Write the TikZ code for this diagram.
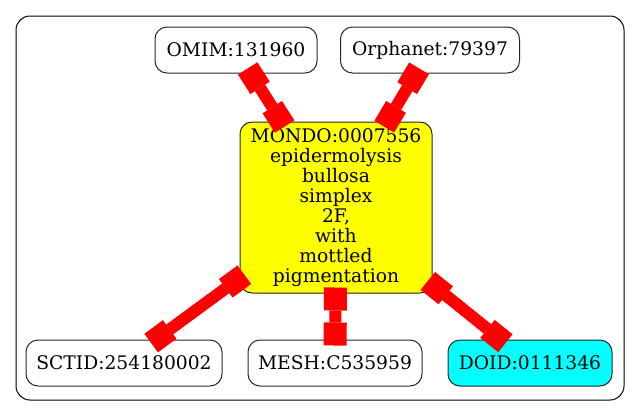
\documentclass[tikz,border=0pt]{standalone}
\usepackage{fontspec}
\setmainfont{DejaVu Serif}
\usetikzlibrary{arrows.meta}
\definecolor{nodeyellow}{RGB}{255,255,0}
\definecolor{nodecyan}{RGB}{0,255,255}
\definecolor{edgered}{RGB}{255,0,0}
\begin{document}
\begin{tikzpicture}[x=1pt,y=-1pt,
  term/.style={draw=black!85, line width=1pt, rounded corners=12pt, minimum height=46pt, inner sep=0pt, font=\fontsize{18.7}{20}\selectfont, align=center},
  link/.style={draw=edgered, line width=12pt, {Square[length=23pt,width=23pt,line width=0pt]}-{Square[length=23pt,width=23pt,line width=0pt]}, shorten <=-6pt, shorten >=-6pt}
]
\useasboundingbox (0,0) rectangle (640,416);
\draw[rounded corners=14pt, line width=1pt] (16,16) rectangle (624,400);
\node[term, minimum width=162pt] (omim) at (236,50) {OMIM:131960};
\node[term, minimum width=179pt] (orpha) at (430,50) {Orphanet:79397};
\node[term, fill=nodeyellow, minimum width=192pt, minimum height=171pt] (mondo) at (336,207.5) {MONDO:0007556\\epidermolysis\\bullosa\\simplex\\2F,\\with\\mottled\\pigmentation};
\node[term, minimum width=196pt] (sctid) at (124,363) {SCTID:254180002};
\node[term, minimum width=174pt] (mesh) at (335,363) {MESH:C535959};
\node[term, fill=nodecyan, minimum width=164pt] (doid) at (530,363) {DOID:0111346};
\draw[link] (omim) -- (mondo);
\draw[link] (orpha) -- (mondo);
\draw[link] (mondo) -- (sctid);
\draw[link] (mondo) -- (mesh);
\draw[link] (mondo) -- (doid);
\end{tikzpicture}
\end{document}
